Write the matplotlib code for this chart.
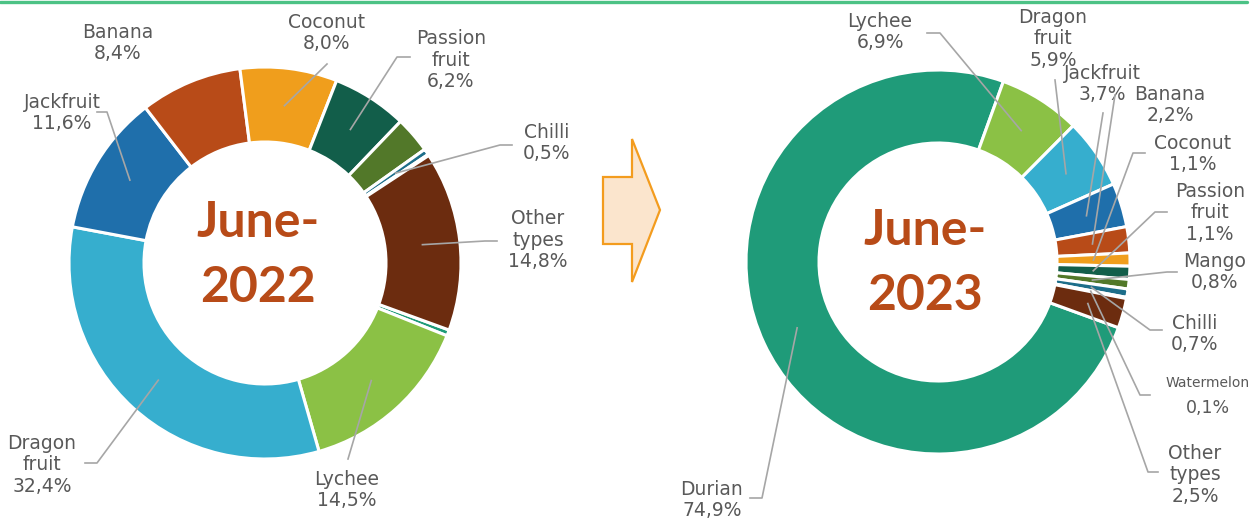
import numpy as np
import matplotlib.pyplot as plt
from matplotlib.patches import Polygon

# categories in series order (first slice = Durian)
fruits = ["Durian", "Lychee", "Dragon fruit", "Jackfruit", "Banana", "Coconut",
          "Passion fruit", "Mango", "Chilli", "Watermelon", "Other types"]
share_2022 = [0.5, 14.5, 32.4, 11.6, 8.4, 8.0, 6.2, 3.0, 0.5, 0.1, 14.8]
share_2023 = [74.9, 6.9, 5.9, 3.7, 2.2, 1.1, 1.1, 0.8, 0.7, 0.1, 2.5]
fruit_colors = ["#1F9B79", "#8BC145", "#36AECE", "#1F6FAB", "#B84B18", "#F09E1C",
                "#125E4A", "#527829", "#1D6E8A", "#C9C9C9", "#6C2C0F"]
titles = ["June-\n2022", "June-\n2023"]

W, H = 1255, 522
LABEL_C = "#595959"
LINE_C = "#A6A6A6"


def py(y):
    # layout positions are written in image pixels (y down)
    return H - y


# label layout: text centre and leader points near the label (pixels)
left_labels = {
    "Banana": ((118, 43), []),
    "Coconut": ((327, 33), [(327, 64)]),
    "Passion fruit": ((451, 60), [(410, 57), (397, 57)]),
    "Chilli": ((547, 143), [(512, 145), (500, 145)]),
    "Other types": ((538, 240), [(497, 241), (485, 241)]),
    "Lychee": ((347, 490), [(348, 459)]),
    "Dragon fruit": ((42, 465), [(85, 463), (97, 463)]),
    "Jackfruit": ((62, 113), [(97, 112), (107, 112)]),
}
right_labels = {
    "Lychee": ((880, 32), [(927, 33), (940, 33)]),
    "Dragon fruit": ((1053, 39), [(1055, 80)]),
    "Jackfruit": ((1102, 84), [(1103, 113)]),
    "Banana": ((1170, 105), [(1115, 95)]),
    "Coconut": ((1193, 154), [(1145, 153), (1133, 153)]),
    "Passion fruit": ((1210, 213), [(1167, 212), (1155, 212)]),
    "Mango": ((1215, 272), [(1177, 272), (1167, 272)]),
    "Chilli": ((1195, 334), [(1162, 330), (1150, 330)]),
    "Watermelon": ((1208, 395), [(1150, 395), (1140, 395)]),
    "Other types": ((1195, 475), [(1158, 472), (1148, 472)]),
    "Durian": ((712, 500), [(750, 498), (762, 498)]),
}

charts = [
    dict(values=share_2022, center=(265, 263), radius=196, width=75,
         title_xy=(258, 237, 302), labels=left_labels),
    dict(values=share_2023, center=(938, 262), radius=192, width=73,
         title_xy=(925, 245, 310), labels=right_labels),
]


def pct(v):
    return f"{v:.1f}".replace(".", ",") + "%"


def fmt(name, v):
    return name.replace(" ", "\n") + "\n" + pct(v)


fig = plt.figure(figsize=(W / 100, H / 100), dpi=100)
ax = fig.add_axes([0, 0, 1, 1])

for ch, title in zip(charts, titles):
    cx, cy = ch["center"][0], py(ch["center"][1])
    wedges, _ = ax.pie(ch["values"], colors=fruit_colors, startangle=-20,
                       counterclock=False, radius=ch["radius"], center=(cx, cy),
                       wedgeprops=dict(width=ch["width"], edgecolor="white", linewidth=2.2))
    for name, ((tx, ty), pts) in ch["labels"].items():
        i = fruits.index(name)
        v = ch["values"][i]
        if name == "Watermelon":
            ax.text(tx, py(ty - 12), name, fontsize=10, color=LABEL_C,
                    ha="center", va="center")
            ax.text(tx, py(ty + 13), pct(v), fontsize=12.5,
                    color=LABEL_C, ha="center", va="center")
        else:
            ax.text(tx, py(ty), fmt(name, v), fontsize=13.5, color=LABEL_C,
                    ha="center", va="center", linespacing=1.15)
        if pts:
            w = wedges[i]
            ang = np.deg2rad((w.theta1 + w.theta2) / 2)
            r = w.r - w.width / 2
            ax_pt = (cx + r * np.cos(ang), cy + r * np.sin(ang))
            xs = [p[0] for p in pts] + [ax_pt[0]]
            ys = [py(p[1]) for p in pts] + [ax_pt[1]]
            ax.plot(xs, ys, color=LINE_C, lw=1.2, zorder=3)
    # centre title
    tx, y1, y2 = ch["title_xy"]
    l1, l2 = title.split("\n")
    ax.text(tx, py(y1), l1, fontsize=36, fontweight="bold", family="Lato",
            color="#B84B18", ha="center", va="baseline")
    ax.text(tx, py(y2), l2, fontsize=36, fontweight="bold", family="Lato",
            color="#B84B18", ha="center", va="baseline")

# arrow between the two charts
arrow = [(603, 177), (632, 177), (632, 139), (660, 210), (632, 282), (632, 244), (603, 244)]
ax.add_patch(Polygon([(x, py(y)) for x, y in arrow], closed=True,
                     facecolor="#FBE5CD", edgecolor="#F39C1E", lw=1.6))

# green rule on top
ax.plot([0, 1247], [py(1.5), py(1.5)], color="#4CC285", lw=2.4, solid_capstyle="round")

ax.set_xlim(0, W)
ax.set_ylim(0, H)
ax.set_aspect("equal")
ax.axis("off")

fig.savefig("out.png", dpi=100)
